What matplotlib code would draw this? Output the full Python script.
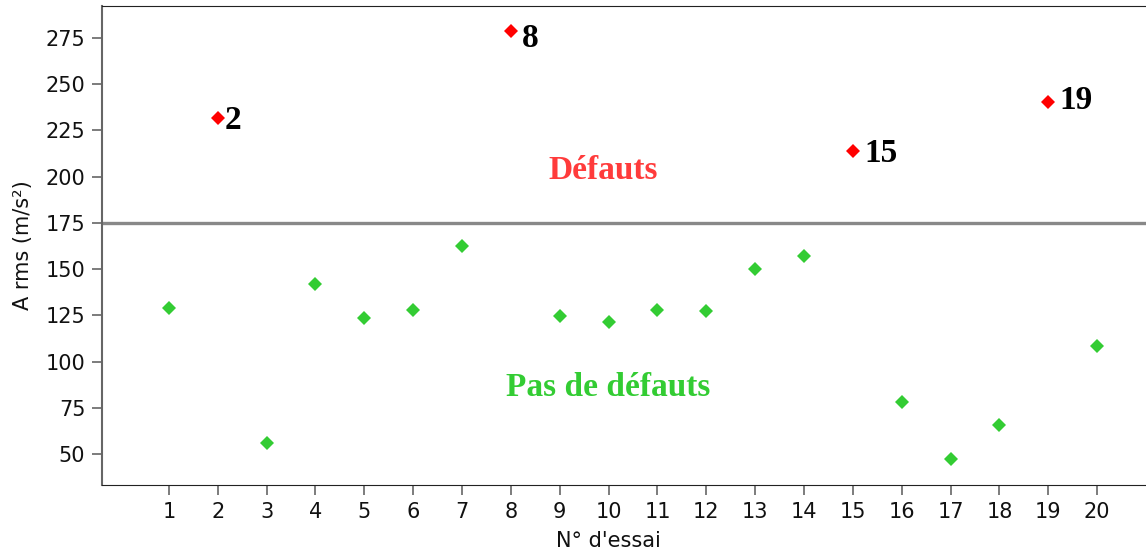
"""Scatter of A rms per trial, split into defect / no-defect zones."""

import matplotlib
matplotlib.use("Agg")
import matplotlib.pyplot as plt

# trial numbers and measured A rms (m/s²)
trials = list(range(1, 21))
a_rms = [129, 232, 56, 142, 123.5, 128, 162.5, 279, 124.5, 121.5,
         128, 127.5, 150, 157, 214, 78, 47, 65.5, 240.5, 108.5]
threshold = 175
defect_trials = [2, 8, 15, 19]

RED = "#ff0000"
GREEN = "#33cc33"

fig = plt.figure(figsize=(11.46, 5.53), dpi=100)
ax = fig.add_axes([0.089, 0.123, 0.911, 0.866])

ok_x = [t for t in trials if t not in defect_trials]
ok_y = [a_rms[t - 1] for t in ok_x]
bad_y = [a_rms[t - 1] for t in defect_trials]

ax.plot(ok_x, ok_y, "D", color=GREEN, ms=7.2, mew=0, zorder=3)
ax.plot(defect_trials, bad_y, "D", color=RED, ms=7.2, mew=0, zorder=3)
ax.axhline(threshold, color="#888888", lw=2.4, zorder=2)

# labels next to the defective trials
offsets = {2: (5, -2), 8: (8, -6), 15: (8, -2), 19: (8, 1)}
for t, v in zip(defect_trials, bad_y):
    ax.annotate(str(t), (t, v), xytext=offsets[t], textcoords="offset points",
                ha="left", va="center", fontsize=24, fontweight="bold",
                family="Liberation Serif", color="black")

ax.text(9.88, 203.5, "Défauts", ha="center", va="center", fontsize=24,
        fontweight="bold", family="Liberation Serif", color="#ff3b3b")
ax.text(10.0, 86, "Pas de défauts", ha="center", va="center", fontsize=24,
        fontweight="bold", family="Liberation Serif", color=GREEN)

ax.set_xlim(-0.37, 21.0)
ax.set_ylim(33.2, 292.3)
ax.set_xticks(trials)
ax.set_yticks(range(50, 276, 25))
ax.tick_params(direction="out", length=7, width=1.2, color="#666666",
               labelsize=15, labelcolor="#111111", pad=5)

ax.spines["right"].set_visible(False)
ax.spines["left"].set_color("#666666")
ax.spines["left"].set_linewidth(1.5)
ax.spines["bottom"].set_color("#222222")
ax.spines["top"].set_color("#222222")

ax.set_xlabel("N° d'essai", fontsize=15, color="#111111")
ax.set_ylabel("A rms (m/s²)", fontsize=15, color="#111111")
ax.xaxis.set_label_coords(0.485, -0.097)
ax.yaxis.set_label_coords(-0.066, 0.5)

fig.savefig("out.png", dpi=100)
plt.close(fig)
